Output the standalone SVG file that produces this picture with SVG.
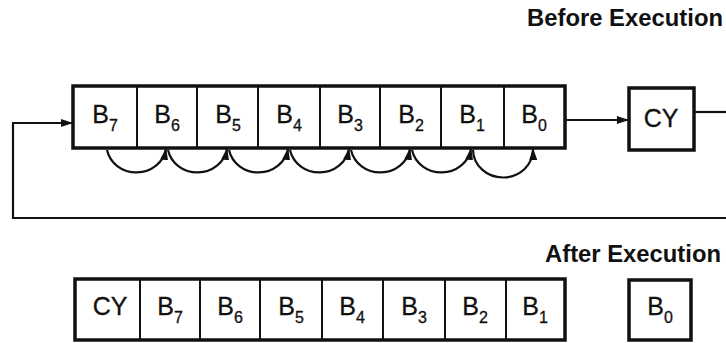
<svg xmlns="http://www.w3.org/2000/svg" width="726" height="343" viewBox="0 0 726 343">
<style>
.box{fill:#fff;stroke:#111;stroke-width:3.5}
.div{stroke:#111;stroke-width:2}
.ln{fill:none;stroke:#111;stroke-width:2.2}
.lbl{font-family:"Liberation Sans",Arial,sans-serif;font-size:25px;fill:#111;stroke:#111;stroke-width:0.3;text-anchor:middle}
.sub{font-size:16px}
.hd{font-family:"Liberation Sans",Arial,sans-serif;font-size:23px;font-weight:bold;fill:#111}
</style>
<defs>
<marker id="ah" markerWidth="12" markerHeight="8" refX="11" refY="4" orient="auto" markerUnits="userSpaceOnUse">
<path d="M0,0 L12,4 L0,8 Z" fill="#111"/>
</marker>
</defs>
<text class="hd" x="527" y="26" textLength="196" lengthAdjust="spacingAndGlyphs">Before Execution</text>
<text class="hd" x="545" y="262" textLength="176" lengthAdjust="spacingAndGlyphs">After Execution</text>

<g id="reg-before">
<rect class="box" x="73" y="86" width="492" height="62"/>
<line class="div" x1="137" y1="86" x2="137" y2="148"/>
<line class="div" x1="197" y1="86" x2="197" y2="148"/>
<line class="div" x1="258" y1="86" x2="258" y2="148"/>
<line class="div" x1="320" y1="86" x2="320" y2="148"/>
<line class="div" x1="380" y1="86" x2="380" y2="148"/>
<line class="div" x1="441" y1="86" x2="441" y2="148"/>
<line class="div" x1="504" y1="86" x2="504" y2="148"/>
<text class="lbl" x="105" y="123">B<tspan class="sub" dy="8">7</tspan></text>
<text class="lbl" x="167" y="123">B<tspan class="sub" dy="8">6</tspan></text>
<text class="lbl" x="228" y="123">B<tspan class="sub" dy="8">5</tspan></text>
<text class="lbl" x="289" y="123">B<tspan class="sub" dy="8">4</tspan></text>
<text class="lbl" x="350" y="123">B<tspan class="sub" dy="8">3</tspan></text>
<text class="lbl" x="411" y="123">B<tspan class="sub" dy="8">2</tspan></text>
<text class="lbl" x="472" y="123">B<tspan class="sub" dy="8">1</tspan></text>
<text class="lbl" x="534" y="123">B<tspan class="sub" dy="8">0</tspan></text>
</g>

<g id="cy-before">
<rect class="box" x="629" y="88" width="65" height="62"/>
<text class="lbl" x="661" y="127" font-size="23">CY</text>
</g>

<g id="reg-after">
<rect class="box" x="75" y="279" width="490" height="61"/>
<line class="div" x1="140" y1="279" x2="140" y2="340"/>
<line class="div" x1="200" y1="279" x2="200" y2="340"/>
<line class="div" x1="260" y1="279" x2="260" y2="340"/>
<line class="div" x1="322" y1="279" x2="322" y2="340"/>
<line class="div" x1="383" y1="279" x2="383" y2="340"/>
<line class="div" x1="445" y1="279" x2="445" y2="340"/>
<line class="div" x1="506" y1="279" x2="506" y2="340"/>
<text class="lbl" x="110" y="315" font-size="23">CY</text>
<text class="lbl" x="170" y="315">B<tspan class="sub" dy="8">7</tspan></text>
<text class="lbl" x="230" y="315">B<tspan class="sub" dy="8">6</tspan></text>
<text class="lbl" x="291" y="315">B<tspan class="sub" dy="8">5</tspan></text>
<text class="lbl" x="352" y="315">B<tspan class="sub" dy="8">4</tspan></text>
<text class="lbl" x="414" y="315">B<tspan class="sub" dy="8">3</tspan></text>
<text class="lbl" x="475" y="315">B<tspan class="sub" dy="8">2</tspan></text>
<text class="lbl" x="535" y="315">B<tspan class="sub" dy="8">1</tspan></text>
</g>

<g id="b0-after">
<rect class="box" x="629" y="280" width="62" height="60"/>
<text class="lbl" x="660" y="315">B<tspan class="sub" dy="8">0</tspan></text>
</g>

<g id="connectors">
<path class="ln" d="M565,120 H628" marker-end="url(#ah)"/>
<path class="ln" d="M694,112 H726"/>
<path class="ln" d="M726,218 H13 V123 H72" marker-end="url(#ah)"/>
<path class="ln" d="M107,150 A30,28 0 0 0 166,149" marker-end="url(#ah)"/>
<path class="ln" d="M168,150 A30,28 0 0 0 227,149" marker-end="url(#ah)"/>
<path class="ln" d="M229,150 A30,28 0 0 0 288,149" marker-end="url(#ah)"/>
<path class="ln" d="M290,150 A30,28 0 0 0 349,149" marker-end="url(#ah)"/>
<path class="ln" d="M351,150 A30,28 0 0 0 410,149" marker-end="url(#ah)"/>
<path class="ln" d="M412,150 A30,28 0 0 0 471,149" marker-end="url(#ah)"/>
<path class="ln" d="M473,150 A30,28 0 0 0 533,149" marker-end="url(#ah)"/>
</g>
</svg>
